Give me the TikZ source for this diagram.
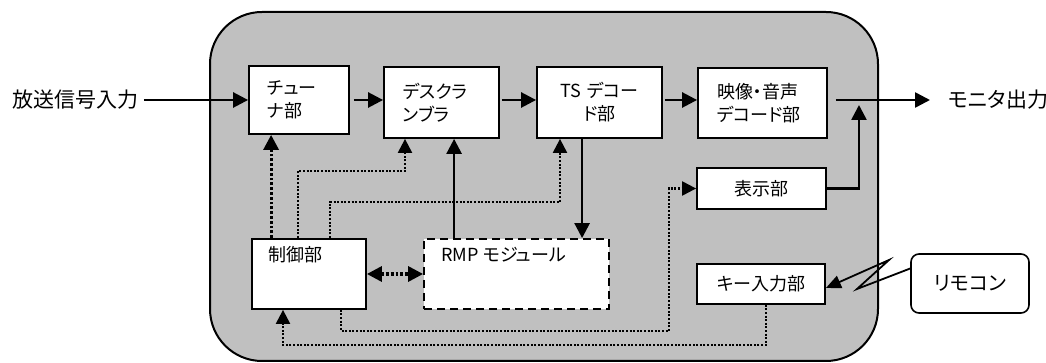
\documentclass[tikz,border=0pt]{standalone}
\usepackage{fontspec}
\setmainfont[RawFeature=+palt]{Noto Sans CJK JP}
\usetikzlibrary{
  arrows.meta,
  calc,
}
\definecolor{panel}{HTML}{C0C0C0}
\tikzset{
  unitbox/.style={
    rectangle, draw=black, fill=white, line width=0.9pt, inner sep=0pt,
    font=\fontsize{9}{11.5}\selectfont,
  },
  unittext/.style={
    inner sep=0pt, font=\fontsize{9}{11.5}\selectfont,
  },
  extlabel/.style={
    inner sep=0pt, font=\fontsize{10.5}{12}\selectfont,
  },
  sigarrow/.style={
    -{Triangle[length=7.5pt,width=7.5pt]}, line width=1.3pt,
  },
  ctrlthick/.style={
    -{Triangle[length=7.5pt,width=7.5pt]}, line width=1.6pt,
    dash pattern=on 1.4pt off 1pt,
  },
  ctrlboth/.style={
    {Triangle[length=7.5pt,width=7.5pt]}-{Triangle[length=7.5pt,width=7.5pt]},
    line width=1.6pt, dash pattern=on 1.4pt off 1pt,
  },
  ctrlthin/.style={
    -{Triangle[length=7pt,width=7pt]}, line width=1.1pt,
    dash pattern=on 1pt off 0.8pt,
  },
  radio/.style={
    -{Triangle[length=7.5pt,width=6.5pt]}, line width=0.9pt,
  },
}

\begin{document}
\begin{tikzpicture}[x=0.5pt, y=-0.5pt]
\useasboundingbox (0,0) rectangle (1046,363);

% receiver panel
\draw[fill=panel, line width=1pt, rounded corners=26pt] (210,12) rectangle (878,361);

% units
\node[unitbox, minimum width=50pt, minimum height=34pt, text width=32pt, align=left] (tuner) at (299,100) {チュー\\ナ部};
\node[unitbox, minimum width=57.5pt, minimum height=35.5pt, text width=38.5pt, align=left] (desc) at (441.5,102.5) {デスクラ\\ンブラ};
\node[unitbox, minimum width=62.5pt, minimum height=35.5pt, text width=50pt, align=center] (ts) at (599.5,102.5) {TS デコー\\ド部};
\node[unitbox, minimum width=64.5pt, minimum height=35pt, text width=45.5pt, align=left] (av) at (762.5,103) {映像・音声\\デコード部};
\node[unitbox, minimum width=64.5pt, minimum height=20.5pt] (disp) at (761.5,188.5) {表示部};
\node[unitbox, minimum width=64pt, minimum height=20pt] (key) at (761,284) {キー入力部};
\node[unitbox, minimum width=57pt, minimum height=35pt] (ctrl) at (309,274) {};
\node[unitbox, minimum width=92.5pt, minimum height=35pt, dash pattern=on 4pt off 2.5pt] (rmp) at (516.5,274) {};
\node[unittext, anchor=north west] (ctrltext) at ($(ctrl.north west)+(17,8)$) {制御部};
\node[unittext, anchor=north west] (rmptext) at ($(rmp.north west)+(18,9)$) {RMP モジュール};
\node[unitbox, minimum width=59pt, minimum height=29.5pt, rounded corners=4pt, line width=0.8pt,
  font=\fontsize{10}{12}\selectfont] (remote) at (970,283.5) {リモコン};

% outside labels
\node[extlabel, anchor=west] (src) at (12,100) {放送信号入力};
\node[extlabel, anchor=west] (mon) at (948,100) {モニタ出力};

% signal chain
\draw[sigarrow, shorten <=2.5pt] (src.east) -- (src.east -| tuner.west);
\draw[sigarrow, shorten <=2pt] (tuner.east) -- (tuner.east -| desc.west);
\draw[sigarrow, shorten <=1pt] (tuner.east -| desc.east) -- (tuner.east -| ts.west);
\draw[sigarrow, shorten <=1pt] (tuner.east -| ts.east) -- (tuner.east -| av.west);
\draw[sigarrow, shorten <=4pt, shorten >=9pt] (tuner.east -| av.east) -- (mon.west);
\coordinate (join) at (859,105);
\draw[sigarrow] (disp.east) -| (join);

% RMP module
\coordinate (r1) at ($(rmp.north west)+(31,0)$);
\draw[sigarrow] (r1) -- (r1 |- desc.south);
\coordinate (t1) at ($(ts.south west)+(46,0)$);
\draw[sigarrow] (t1) -- (t1 |- rmp.north);
\draw[ctrlboth] (ctrl.east) -- (rmp.west);

% control lines
\coordinate (c1) at ($(ctrl.north west)+(20,0)$);
\draw[ctrlthick] (c1) -- (c1 |- tuner.south);
\coordinate (c2) at ($(ctrl.north west)+(47,0)$);
\coordinate (b2) at (405,171);
\draw[ctrlthin] (c2) |- (b2) -- (b2 |- desc.south);
\coordinate (c3) at ($(ctrl.north west)+(79,0)$);
\coordinate (b3) at (560,202);
\draw[ctrlthin] (c3) |- (b3) -- (b3 |- ts.south);
\coordinate (c4) at ($(ctrl.south west)+(90,0)$);
\coordinate (b4) at (669,331);
\draw[ctrlthin] (c4) |- (b4) |- (disp.west);
\coordinate (k1) at ($(key.south west)+(70,0)$);
\coordinate (b5) at (283,345);
\draw[ctrlthin] (k1) |- (b5) -- (b5 |- ctrl.south);

% remote link
\coordinate (z1) at (857,289);
\coordinate (z2) at (889,260);
\draw[radio] ($(remote.west)+(0,-15)$) -- (z1) -- (z2) -- ($(key.east)+(0,4)$);

\end{tikzpicture}
\end{document}
